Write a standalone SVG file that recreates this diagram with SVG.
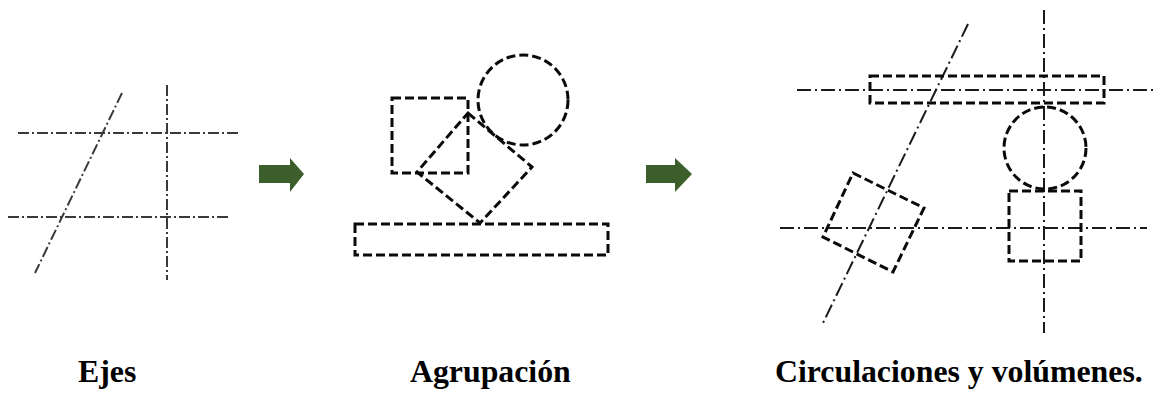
<svg xmlns="http://www.w3.org/2000/svg" width="1163" height="394" viewBox="0 0 1163 394">
<defs>
<style>
.axis{fill:none;stroke:#3a3a3a;stroke-width:2;stroke-dasharray:11 3 2 3}
.axis3{fill:none;stroke:#1a1a1a;stroke-width:2;stroke-dasharray:14 4 2 4}
.vol{fill:none;stroke:#0a0a0a;stroke-width:3;stroke-dasharray:9 4}
.arrow{fill:#3b5e2b}
.lbl{font-family:"Liberation Serif","Times New Roman",serif;font-weight:bold;font-size:31.8px;fill:#000}
</style>
</defs>
<rect width="1163" height="394" fill="#fff"/>
<g id="ejes">
<line class="axis" x1="18" y1="133" x2="240" y2="133"/>
<line class="axis" x1="8" y1="217" x2="230" y2="217"/>
<line class="axis" x1="167" y1="85" x2="167" y2="280"/>
<line class="axis" x1="122" y1="93" x2="35" y2="273"/>
</g>
<g id="agrupacion">
<rect class="vol" x="392" y="98" width="76" height="75"/>
<circle class="vol" cx="523" cy="100" r="45"/>
<polygon class="vol" points="468,113 532,167 480,223 417,172"/>
<rect class="vol" x="355" y="224" width="253" height="31"/>
</g>
<g id="circulaciones">
<line class="axis3" x1="1044" y1="10" x2="1044" y2="333"/>
<line class="axis3" x1="797" y1="90" x2="1155" y2="90"/>
<line class="axis3" x1="780" y1="228" x2="1147" y2="228"/>
<line class="axis3" x1="968" y1="24" x2="823" y2="323"/>
<rect class="vol" x="870" y="76" width="234" height="27"/>
<circle class="vol" cx="1045" cy="148" r="41"/>
<rect class="vol" x="1009" y="191" width="72" height="70"/>
<polygon class="vol" points="853,173 924,208 893,272 823,237"/>
</g>
<g id="connectors">
<polygon class="arrow" points="259,165 290,165 290,158 304,174 290,192 290,183 259,183"/>
<polygon class="arrow" points="646,165 675,165 675,158 692,174 675,192 675,183 646,183"/>
</g>
<g id="labels">
<text class="lbl" x="78" y="382">Ejes</text>
<text class="lbl" x="410" y="382">Agrupación</text>
<text class="lbl" x="775" y="382">Circulaciones y volúmenes.</text>
</g>
</svg>
